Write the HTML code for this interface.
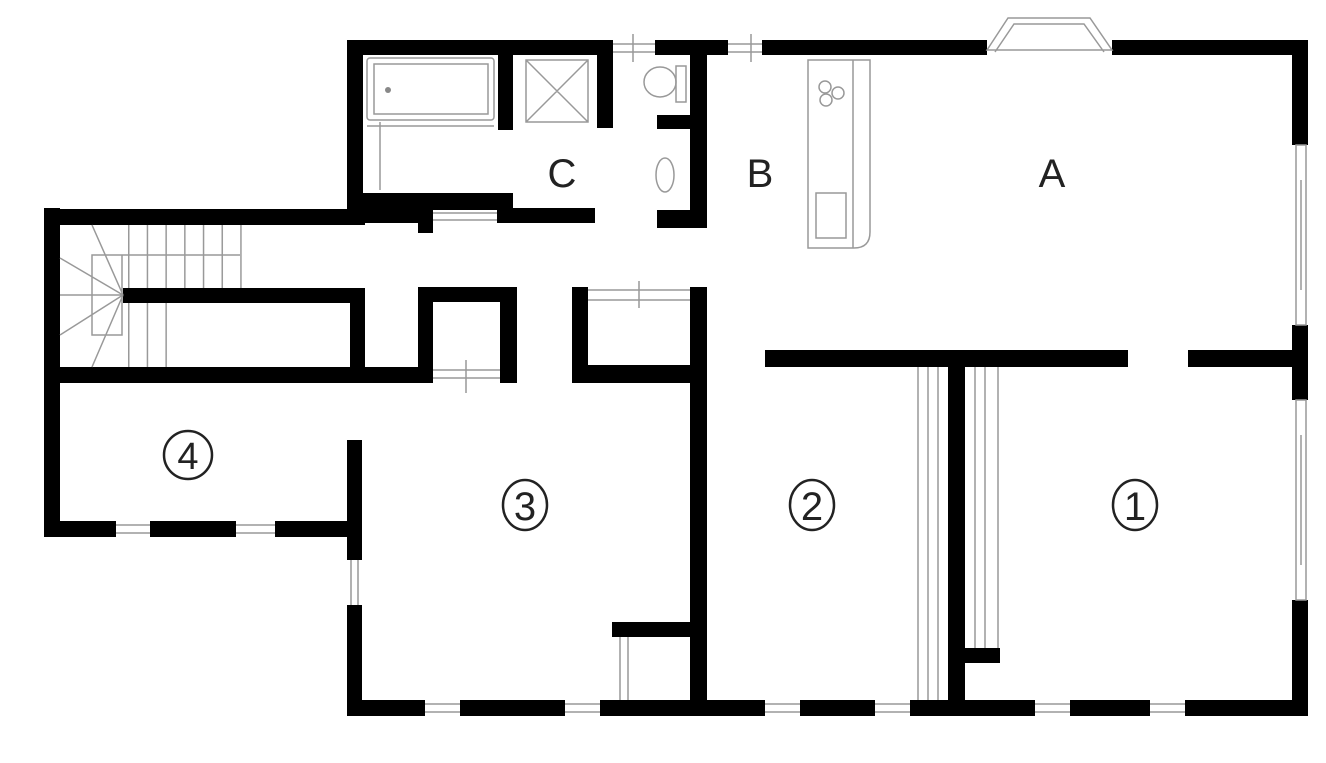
<!DOCTYPE html>
<html><head><meta charset="utf-8"><style>
html,body{margin:0;padding:0;background:#fff;}
svg{display:block;}
text{font-family:"Liberation Sans","DejaVu Sans",sans-serif;fill:#222;}
</style></head><body>
<svg width="1326" height="763" viewBox="0 0 1326 763" xmlns="http://www.w3.org/2000/svg">
<defs>
<pattern id="tr" x="128" y="0" width="18.7" height="10" patternUnits="userSpaceOnUse">
<rect x="0" y="0" width="1.5" height="10" fill="#999"/>
</pattern>
</defs>
<path fill="#000" d="M347 40h266v15h-266z M655 40h73v15h-73z M762 40h225v15h-225z M1112 40h196v15h-196z
M1292 40h16v105h-16z M1292 325h16v75h-16z M1292 600h16v116h-16z
M347 700h78v16h-78z M460 700h105v16h-105z M600 700h165v16h-165z M800 700h75v16h-75z M910 700h125v16h-125z M1070 700h80v16h-80z M1185 700h123v16h-123z
M347 440h15v120h-15z M347 605h15v111h-15z
M44 208h16v329h-16z M44 521h72v16h-72z M150 521h86v16h-86z M275 521h87v16h-87z
M44 209h321v16h-321z M123 288h242v15h-242z M350 288h15v95h-15z M44 367h389v16h-389z
M347 40h16v185h-16z M498 40h15v90h-15z M597 40h16v88h-16z M347 193h166v17h-166z M347 208h71v15h-71z M418 208h15v25h-15z M497 208h98v15h-98z
M690 40h17v188h-17z M657 115h35v14h-35z M657 210h50v18h-50z
M418 287h15v96h-15z M418 287h99v15h-99z M500 287h17v96h-17z M572 287h16v96h-16z M572 365h120v18h-120z M690 287h17v429h-17z
M612 622h80v15h-80z M765 350h363v17h-363z M1188 350h120v17h-120z M948 350h17v366h-17z M965 648h35v15h-35z"/>
<path fill="none" stroke="#999" stroke-width="1.5" d="M370 58h121a3 3 0 0 1 3 3v56a3 3 0 0 1 -3 3h-121a3 3 0 0 1 -3 -3v-56a3 3 0 0 1 3 -3z M374 64h114v50h-114z M380 122V190 M367 126H494
M526 60h62v62h-62z M526 60L588 122 M588 60L526 122 M676 66h10v36h-10z
M613 44H655 M613 52H655 M633 34V62 M728 44H762 M728 52H762 M751 34V62
M987 50L1008 18H1090L1112 50Z M995 52L1014 24H1084L1104 52
M808 60H870V232Q870 248 854 248H808Z M853 60V248 M816 193h30v45h-30z
M1296 145h10v180h-10z M1301 180V290 M1296 400h10v200h-10z M1301 435V565
M433 213H497 M433 220H497 M433 370H500 M433 378H500 M466 360V393
M588 290H690 M588 300H690 M639 281V308 M620 637V700 M628 637V700
M918 367V700 M928 367V700 M938 367V700 M975 367V648 M985 367V648 M998 367V648
M351 560V605 M358 560V605
M425 704H460 M425 712H460 M565 704H600 M565 712H600 M765 704H800 M765 712H800 M875 704H910 M875 712H910
M1035 704H1070 M1035 712H1070 M1150 704H1185 M1150 712H1185
M116 525H150 M116 533H150 M236 525H275 M236 533H275
M92 255h30v80h-30z M92 255H240
M60 258L123 295 M60 295H123 M60 335L123 295 M92 367L123 295 M92 225L123 295"/>
<rect x="127" y="225" width="115" height="63" fill="url(#tr)"/>
<rect x="127" y="303" width="43" height="64" fill="url(#tr)"/>
<ellipse cx="660" cy="82" rx="16" ry="15" fill="none" stroke="#999" stroke-width="1.5"/>
<ellipse cx="665" cy="175" rx="9" ry="17" fill="none" stroke="#999" stroke-width="1.5"/>
<circle cx="825" cy="87" r="6" fill="none" stroke="#999" stroke-width="1.5"/>
<circle cx="838" cy="93" r="6" fill="none" stroke="#999" stroke-width="1.5"/>
<circle cx="826" cy="100" r="6" fill="none" stroke="#999" stroke-width="1.5"/>
<circle cx="388" cy="90" r="3" fill="#888"/>
<text x="562" y="187" font-size="40" text-anchor="middle">C</text>
<text x="760" y="187" font-size="40" text-anchor="middle">B</text>
<text x="1052" y="187" font-size="40" text-anchor="middle">A</text>
<g fill="none" stroke="#222" stroke-width="2.5">
<circle cx="188" cy="455" r="24"/>
<ellipse cx="525" cy="505" rx="22" ry="25"/>
<ellipse cx="812" cy="505" rx="22" ry="25"/>
<ellipse cx="1135" cy="505" rx="22" ry="25"/>
</g>
<text x="188" y="469" font-size="38" text-anchor="middle">4</text>
<text x="525" y="520" font-size="40" text-anchor="middle">3</text>
<text x="812" y="520" font-size="40" text-anchor="middle">2</text>
<text x="1135" y="520" font-size="40" text-anchor="middle">1</text>
</svg>
</body></html>
